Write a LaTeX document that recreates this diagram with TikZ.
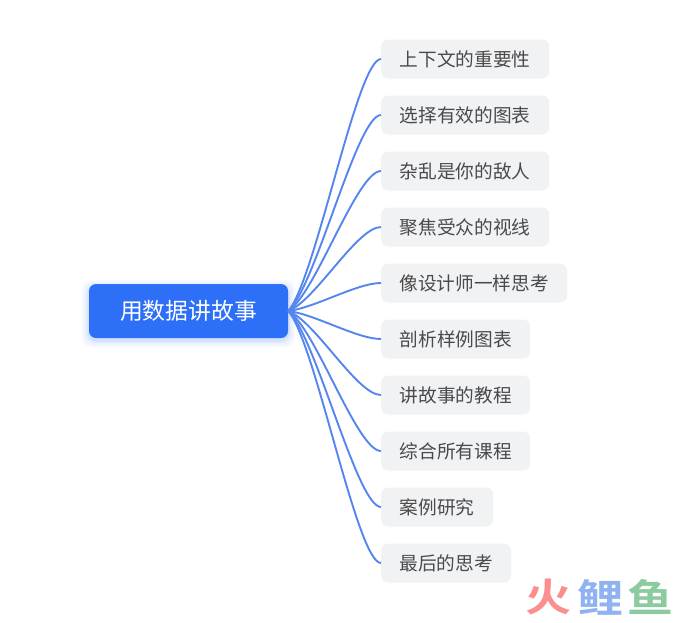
\documentclass[tikz,border=0pt]{standalone}
\usepackage{fontspec}
\usetikzlibrary{calc}
\setmainfont{Noto Sans CJK SC}
\newfontfamily\wmfont[BoldFont=Noto Sans CJK SC Bold]{Noto Sans CJK SC}
\definecolor{rootblue}{HTML}{2E6FF8}
\definecolor{linkblue}{HTML}{5585EE}
\definecolor{leafgray}{HTML}{F1F2F4}
\definecolor{leaftext}{HTML}{4A4A4A}
\definecolor{wmred}{HTML}{FB8E8E}
\definecolor{wmblue}{HTML}{8FB3F2}
\definecolor{wmgreen}{HTML}{8CCB9F}
\tikzset{
  x=1pt,y=-1pt,
  rootbox/.style={fill=rootblue,rounded corners=7pt,minimum width=199pt,minimum height=54pt,inner sep=0pt,text=white,font=\fontsize{22.8}{26}\selectfont},
  leaf/.style={fill=leafgray,rounded corners=7pt,minimum height=39pt,inner sep=0pt,text=leaftext,anchor=west,font=\fontsize{18.7}{22}\selectfont},
  link/.style={draw=linkblue,line width=1.9pt},
  wm/.style={font=\wmfont\bfseries\fontsize{46}{50}\selectfont,inner sep=0pt,yscale=0.84}
}
\begin{document}
\begin{tikzpicture}
\useasboundingbox (0,0) rectangle (695,622);
\foreach \s/\o in {7/0.04,5/0.05,3/0.06,1.5/0.08}{
  \fill[rootblue,opacity=\o,rounded corners=9pt] (89-\s,285-\s+2) rectangle (288+\s,338+\s+2);
}
\node[rootbox] (root) at (188.5,311) {用数据讲故事};
\foreach \i/\y/\w/\t in {
  1/59/168/上下文的重要性,
  2/115/168/选择有效的图表,
  3/171/168/杂乱是你的敌人,
  4/227/168/聚焦受众的视线,
  5/283/186/像设计师一样思考,
  6/339/149/剖析样例图表,
  7/395/149/讲故事的教程,
  8/451/149/综合所有课程,
  9/507/112/案例研究,
  10/563/130/最后的思考}{
  \node[leaf,minimum width=\w pt] (b\i) at (381,\y) {\t};
  \draw[link] (root.east) .. controls ($(root.east)!0.12!(b\i.west)+(16,0)$) and ($(b\i.west)+(-24,0)$) .. (b\i.west);
}
\node[wm,text=wmred,transform shape] (w1) at (548,597) {火};
\node[wm,text=wmblue,transform shape] (w2) at (600,597) {鲤};
\node[wm,text=wmgreen,transform shape] (w3) at (650,597) {鱼};
\end{tikzpicture}
\end{document}
